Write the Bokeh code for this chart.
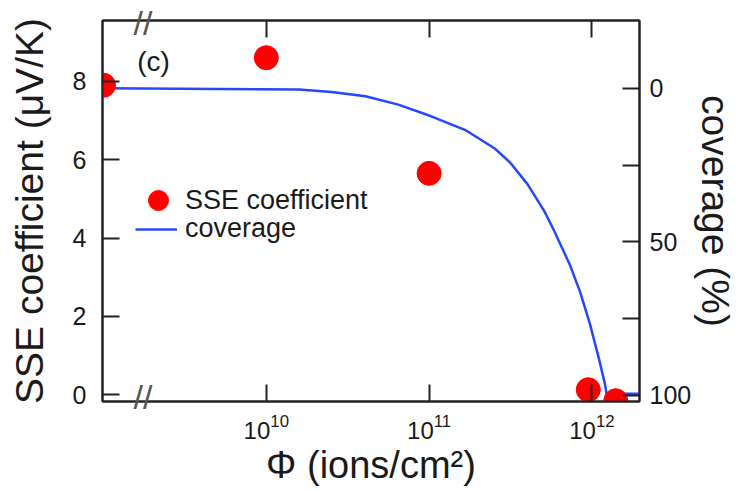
from bokeh.plotting import figure
from bokeh.models import (Range1d, LinearAxis, LogAxis, FixedTicker, Legend,
                          LegendItem, Label, CustomJSTickFormatter)
from bokeh.embed import file_html
from bokeh.resources import INLINE

# SSE coefficient data (first point: unirradiated sample, drawn at the left edge)
phi_sse = [1e9, 1e10, 1e11, 9.5e11, 1.4e12]
sse = [7.9, 8.6, 5.65, 0.13, -0.15]

# coverage curve
phi_cov = [1e9, 1.59e10, 2.52e10, 4.07e10, 6.47e10, 1.03e11, 1.66e11,
           2.53e11, 3.16e11, 4.02e11, 5.10e11, 5.86e11, 6.38e11, 7.34e11,
           8.45e11, 9.73e11, 1.10e12, 1.20e12, 1.23e12, 1.96e12]
cov = [0, 0.4, 1.2, 2.6, 5.3, 9.1, 13.5, 19.6, 24.3, 31.2, 40.0, 46.4,
       50.6, 57.6, 66.2, 76.8, 87.7, 96.1, 99.5, 99.5]

x_ticks = [1e10, 1e11, 1e12]
break_pos = [1.75e9]          # where the axis-break marks sit
left_ticks = [0, 2, 4, 6, 8]
right_ticks = [0, 25, 50, 75, 100]
right_labels = {0: "0", 25: "", 50: "50", 75: "", 100: "100"}

FONT = "Liberation Sans"
TXT = "#1a1a1a"
AX = "#222222"

p = figure(width=740, height=491, x_axis_type="log",
           x_range=Range1d(9.86e8, 1.96e12), y_range=Range1d(-0.17, 9.55),
           output_backend="svg", toolbar_location=None,
           min_border_left=102, min_border_top=19, min_border_right=97,
           min_border_bottom=90, background_fill_color="white",
           border_fill_color="white")
p.xgrid.visible = False
p.ygrid.visible = False
p.outline_line_color = AX
p.outline_line_width = 2

p.extra_y_ranges = {"cov": Range1d(start=102, end=-22.1)}


def style(ax, tick_font="25px"):
    ax.axis_line_color = AX
    ax.axis_line_width = 2
    ax.major_tick_line_color = AX
    ax.major_tick_line_width = 2
    ax.major_tick_in = 17
    ax.major_tick_out = 0
    ax.minor_tick_line_color = None
    ax.major_label_text_font = FONT
    ax.major_label_text_font_size = tick_font
    ax.major_label_text_color = TXT
    ax.axis_label_text_font = FONT
    ax.axis_label_text_font_style = "normal"
    ax.axis_label_text_color = TXT


def break_axis(standoff):
    # axis line + inward decade ticks (as minor ticks) + "//" break mark label
    ax = LogAxis(ticker=FixedTicker(ticks=break_pos, minor_ticks=x_ticks),
                 formatter=CustomJSTickFormatter(code="return '//'"))
    ax.axis_line_color = AX
    ax.axis_line_width = 2
    ax.major_tick_line_color = None
    ax.minor_tick_line_color = AX
    ax.minor_tick_line_width = 2
    ax.minor_tick_in = 17
    ax.minor_tick_out = 0
    ax.major_label_text_font = FONT
    ax.major_label_text_font_size = "34px"
    ax.major_label_text_color = "#555555"
    ax.major_label_standoff = standoff
    return ax


# bottom: inner axis with break mark, outer axis with labels
xb = break_axis(-30)
xa = p.xaxis[0]
style(xa, "24px")
xa.ticker = FixedTicker(ticks=x_ticks)
xa.axis_line_color = None
xa.major_tick_line_color = None
xa.axis_label = "Φ (ions/cm²)"
xa.axis_label_text_font_size = "38px"
xa.major_label_standoff = -5
xa.axis_label_standoff = 2
p.below = [xb, xa]

# left axis
ya = p.yaxis[0]
style(ya)
ya.ticker = FixedTicker(ticks=left_ticks)
ya.axis_label = "SSE coefficient (μV/K)"
ya.axis_label_text_font_size = "39px"
ya.major_label_standoff = 16
ya.axis_label_standoff = 19

# right axis
ra = LinearAxis(y_range_name="cov", ticker=FixedTicker(ticks=right_ticks),
                major_label_overrides=right_labels, axis_label="coverage (%)")
style(ra)
ra.axis_label_text_font_size = "39px"
ra.major_label_standoff = 10
ra.axis_label_standoff = 0
p.add_layout(ra, "right")

# top axis with break mark
ta = break_axis(-27)
p.add_layout(ta, "above")

# data
line_r = p.line(phi_cov, cov, y_range_name="cov", line_color="#2447ff", line_width=2.5)
pts_r = p.scatter(phi_sse, sse, size=24, fill_color="#ff0000", line_color="#ff0000")

# legends
leg1 = Legend(items=[LegendItem(label="SSE coefficient", renderers=[pts_r])],
              location=(31, 176), glyph_width=50, glyph_height=50,
              label_standoff=2, padding=0, margin=0, spacing=0,
              border_line_color=None, background_fill_alpha=0,
              label_text_font=FONT, label_text_font_size="27px",
              label_text_color=TXT)
leg2 = Legend(items=[LegendItem(label="coverage", renderers=[line_r])],
              location=(33, 157), glyph_width=42, glyph_height=24,
              label_standoff=8, padding=0, margin=0, spacing=0,
              border_line_color=None, background_fill_alpha=0,
              label_text_font=FONT, label_text_font_size="27px",
              label_text_color=TXT)
p.add_layout(leg1)
p.add_layout(leg2)

# panel letter
p.add_layout(Label(x=1.61e9, y=8.51, text="(c)", text_font=FONT,
                   text_font_size="28px", text_color=TXT,
                   text_align="left", text_baseline="middle"))

open("out.html", "w").write(file_html(p, INLINE))
